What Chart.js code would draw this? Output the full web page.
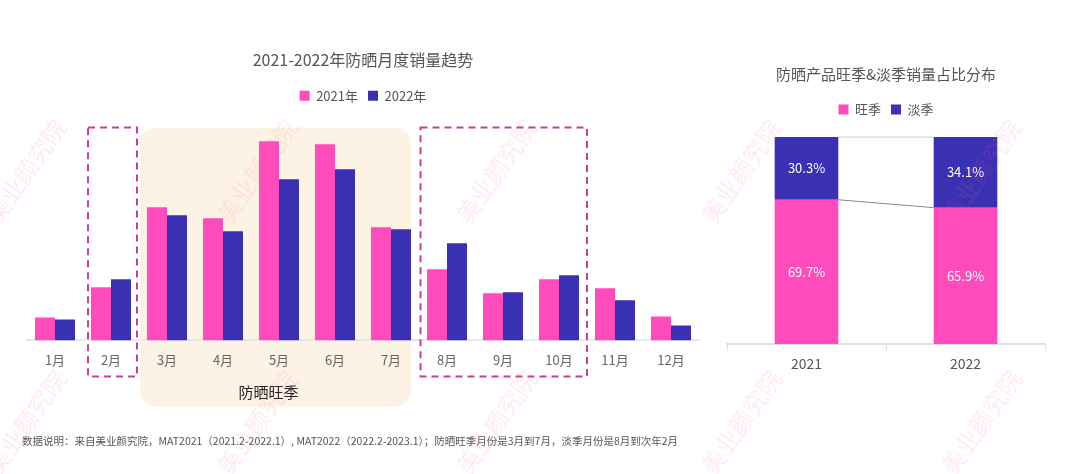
<!DOCTYPE html>
<html>
<head>
<meta charset="utf-8">
<script src="https://cdn.jsdelivr.net/npm/chart.js@4"></script>
<style>
  html, body { margin: 0; padding: 0; background: #fff; }
  body { width: 1080px; height: 474px; position: relative; overflow: hidden;
         font-family: "Noto Sans CJK SC", "Noto Sans", sans-serif; }
  #monthWrap { position: absolute; left: 0; top: 0; width: 720px; height: 474px; }
  #shareWrap { position: absolute; left: 720px; top: 0; width: 360px; height: 474px; }
  #note { position: absolute; left: 22px; top: 433px; font-size: 10.5px; color: #555; white-space: nowrap; }
  .wm { position: absolute; font-size: 24px; color: rgba(255, 90, 140, 0.13); transform: rotate(-55deg);
        white-space: nowrap; pointer-events: none; }
</style>
</head>
<body>
<div id="monthWrap"><canvas id="monthChart"></canvas></div>
<div id="shareWrap"><canvas id="shareChart"></canvas></div>
<div id="note">数据说明：来自美业颜究院，MAT2021（2021.2-2022.1）, MAT2022（2022.2-2023.1）；防晒旺季月份是3月到7月，淡季月份是8月到次年2月</div>
<div id="marks"></div>
<script>
// monthly sales (relative)
const months = ['1月', '2月', '3月', '4月', '5月', '6月', '7月', '8月', '9月', '10月', '11月', '12月'];
const sales2021 = [23, 53, 133, 122, 199, 196, 113, 71, 47, 61, 52, 24];
const sales2022 = [21, 61, 125, 109, 161, 171, 111, 97, 48, 65, 40, 15];

// peak / off season share
const shareYears = ['2021', '2022'];
const peakShare = [69.7, 65.9];
const offShare = [30.3, 34.1];

const PINK = '#ff4bbb';
const BLUE = '#3a30b4';
const FONT = '"Noto Sans CJK SC", "Noto Sans", sans-serif';

// watermark text
const marksEl = document.getElementById('marks');
[25, 256, 495, 740, 980].forEach(cx => {
    [167, 418].forEach(cy => {
        const s = document.createElement('div');
        s.className = 'wm';
        s.textContent = '美业颜究院';
        s.style.left = (cx - 60) + 'px';
        s.style.top = (cy - 14) + 'px';
        marksEl.appendChild(s);
    });
});

// beige peak-season panel + dashed off-season boxes
const seasonBoxes = {
    id: 'seasonBoxes',
    beforeDraw(chart) {
        const ctx = chart.ctx;
        const m0 = chart.getDatasetMeta(0).data;
        const m1 = chart.getDatasetMeta(1).data;
        const base = chart.chartArea.bottom;
        const left = m0[2].x - m0[2].width / 2 - 7;
        const right = m1[6].x + m1[6].width / 2;
        ctx.save();
        ctx.fillStyle = '#fdf3e4';
        ctx.beginPath();
        ctx.roundRect(left, base - 213, right - left, 279, 16);
        ctx.fill();
        ctx.fillStyle = '#222';
        ctx.font = '15px ' + FONT;
        ctx.textAlign = 'center';
        ctx.textBaseline = 'middle';
        ctx.fillText('防晒旺季', (left + right) / 2 - 7, base + 52);
        ctx.restore();
    },
    afterDraw(chart) {
        const ctx = chart.ctx;
        const m0 = chart.getDatasetMeta(0).data;
        const m1 = chart.getDatasetMeta(1).data;
        const base = chart.chartArea.bottom;
        const boxes = [
            [m0[1].x - m0[1].width / 2 - 3, m1[1].x + m1[1].width / 2 + 6],
            [m0[7].x - m0[7].width / 2 - 6.5, m1[9].x + m1[9].width / 2 + 8]
        ];
        ctx.save();
        ctx.strokeStyle = '#c93d9b';
        ctx.lineWidth = 2;
        ctx.setLineDash([7, 5]);
        boxes.forEach(([l, r]) => {
            ctx.strokeRect(l, base - 213, r - l, 249);
        });
        ctx.restore();
    }
};

new Chart(document.getElementById('monthChart'), {
    type: 'bar',
    data: {
        labels: months,
        datasets: [
            { label: '2021年', data: sales2021, backgroundColor: PINK, borderColor: PINK },
            { label: '2022年', data: sales2022, backgroundColor: BLUE, borderColor: BLUE }
        ]
    },
    options: {
        responsive: true,
        maintainAspectRatio: false,
        animation: false,
        datasets: { bar: { categoryPercentage: 0.714, barPercentage: 1.0 } },
        layout: { padding: { left: 27, right: 21, top: 40, bottom: 94 } },
        plugins: {
            title: {
                display: true,
                text: '2021-2022年防晒月度销量趋势',
                color: '#555',
                font: { family: FONT, size: 16, weight: 'normal' },
                padding: { top: 10, bottom: 10 }
            },
            legend: {
                labels: { boxWidth: 10, boxHeight: 10, color: '#555', font: { family: FONT, size: 13 }, padding: 10 }
            },
            tooltip: { enabled: false }
        },
        scales: {
            x: {
                grid: { display: false, drawTicks: false },
                border: { display: true, color: '#e8e8e8', width: 2 },
                ticks: { color: '#666', font: { family: FONT, size: 13 }, padding: 12 }
            },
            y: { display: false, min: 0, max: 228 }
        }
    },
    plugins: [seasonBoxes]
});

// white percentage labels + connector lines between the stacked bars
const shareLabels = {
    id: 'shareLabels',
    afterDatasetsDraw(chart) {
        const ctx = chart.ctx;
        ctx.save();
        [[0, '#888'], [1, '#d0d0d0']].forEach(([di, col]) => {
            const bars = chart.getDatasetMeta(di).data;
            ctx.strokeStyle = col;
            ctx.lineWidth = 1;
            ctx.beginPath();
            ctx.moveTo(bars[0].x + bars[0].width / 2, bars[0].y);
            ctx.lineTo(bars[1].x - bars[1].width / 2, bars[1].y);
            ctx.stroke();
        });
        ctx.fillStyle = '#fff';
        ctx.font = '13px ' + FONT;
        ctx.textAlign = 'center';
        ctx.textBaseline = 'middle';
        chart.data.datasets.forEach((ds, di) => {
            chart.getDatasetMeta(di).data.forEach((bar, i) => {
                ctx.fillText(ds.data[i].toFixed(1) + '%', bar.x, (bar.y + bar.base) / 2);
            });
        });
        ctx.restore();
    }
};

new Chart(document.getElementById('shareChart'), {
    type: 'bar',
    data: {
        labels: shareYears,
        datasets: [
            { label: '旺季', data: peakShare, backgroundColor: PINK, borderColor: PINK },
            { label: '淡季', data: offShare, backgroundColor: BLUE, borderColor: BLUE }
        ]
    },
    options: {
        responsive: true,
        maintainAspectRatio: false,
        animation: false,
        datasets: { bar: { categoryPercentage: 0.4, barPercentage: 1.0 } },
        layout: { padding: { left: 7, right: 35, top: 55, bottom: 97 } },
        plugins: {
            title: {
                display: true,
                text: '防晒产品旺季&淡季销量占比分布',
                color: '#555',
                font: { family: FONT, size: 15, weight: 'normal' },
                padding: { top: 10, bottom: 10 }
            },
            legend: {
                labels: { boxWidth: 10, boxHeight: 10, color: '#555', font: { family: FONT, size: 13 }, padding: 10 }
            },
            tooltip: { enabled: false }
        },
        scales: {
            x: {
                stacked: true,
                grid: { display: true, drawOnChartArea: false, drawTicks: true, tickLength: 6, color: '#ddd', offset: true },
                border: { display: true, color: '#e2e2e2', width: 2 },
                ticks: { color: '#555', font: { family: FONT, size: 14 }, padding: 5 }
            },
            // empty top axis, only used as a gap between legend and bars
            gap: {
                type: 'category',
                position: 'top',
                grid: { display: false },
                border: { display: false },
                ticks: { display: false },
                afterFit(scale) { scale.height = 11; }
            },
            y: { stacked: true, display: false, min: 0, max: 100 }
        }
    },
    plugins: [shareLabels]
});
</script>
</body>
</html>
